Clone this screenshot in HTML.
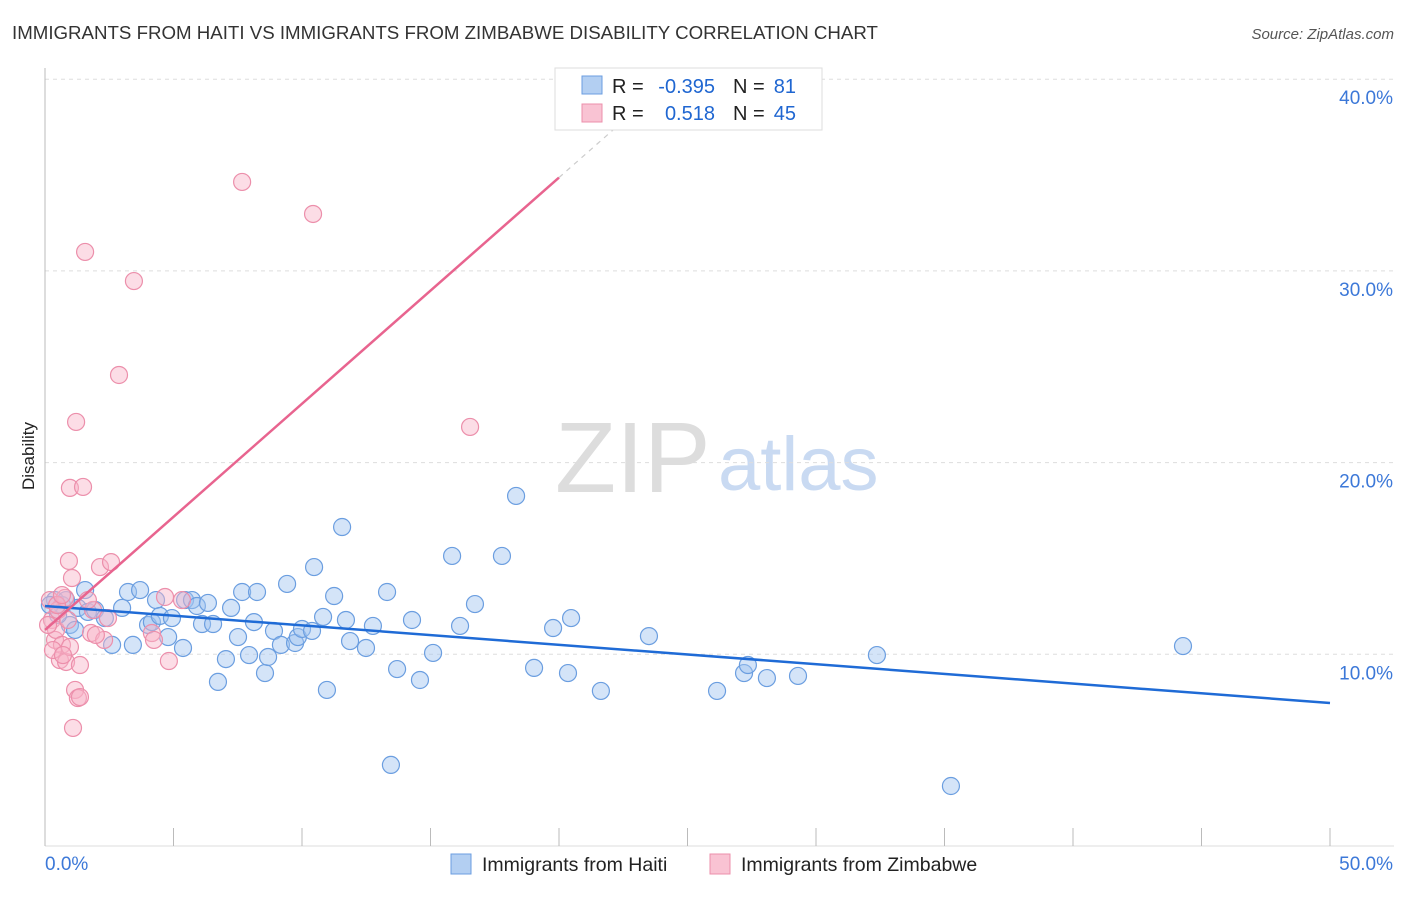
<!DOCTYPE html>
<html><head><meta charset="utf-8"><style>
body{margin:0;background:#fff;font-family:"Liberation Sans",sans-serif;}
svg text{font-family:"Liberation Sans",sans-serif;}
</style></head><body>
<svg id="chart" width="1406" height="892" xmlns="http://www.w3.org/2000/svg">
<text x="12" y="39" font-size="18.7" fill="#333">IMMIGRANTS FROM HAITI VS IMMIGRANTS FROM ZIMBABWE DISABILITY CORRELATION CHART</text>
<text x="1394" y="39" font-size="15" fill="#555" font-style="italic" text-anchor="end">Source: ZipAtlas.com</text>
<text transform="translate(34,456) rotate(-90)" font-size="17" fill="#222" text-anchor="middle">Disability</text>
<g>
<text x="555" y="492" font-size="100" fill="#ddd" font-family="Liberation Serif">ZIP</text>
<text x="718" y="490" font-size="76" fill="#c9daf2">atlas</text>
</g>
<g id="grid"></g>
<g id="axes"></g>
<g id="pts"></g>
<g id="lines"></g>
<g>
<rect x="555" y="68" width="267" height="62" fill="#fff" stroke="#ddd"/>
<rect x="582" y="76" width="20" height="18" fill="#b3cff2" stroke="#6b9ee0"/>
<rect x="582" y="104" width="20" height="18" fill="#f9c3d3" stroke="#ec8fab"/>
<text x="612" y="93" font-size="20" fill="#222">R =</text>
<text x="715" y="93" font-size="20" fill="#1f66d1" text-anchor="end">-0.395</text>
<text x="733" y="93" font-size="20" fill="#222">N =</text>
<text x="796" y="93" font-size="20" fill="#1f66d1" text-anchor="end">81</text>
<text x="612" y="120" font-size="20" fill="#222">R =</text>
<text x="715" y="120" font-size="20" fill="#1f66d1" text-anchor="end">0.518</text>
<text x="733" y="120" font-size="20" fill="#222">N =</text>
<text x="796" y="120" font-size="20" fill="#1f66d1" text-anchor="end">45</text>
</g>
<g>
<rect x="451" y="854" width="20" height="20" fill="#b3cff2" stroke="#6b9ee0"/>
<text x="482" y="871" font-size="19.5" fill="#222">Immigrants from Haiti</text>
<rect x="710" y="854" width="20" height="20" fill="#f9c3d3" stroke="#ec8fab"/>
<text x="741" y="871" font-size="19.5" fill="#222">Immigrants from Zimbabwe</text>
</g>
</svg>
<script>
const yTicks=[10,20,30,40];
const xTickLabels=["0.0%","50.0%"];
const haitiX=[0.39,0.66,0.97,1.28,1.56,1.67,1.95,2.33,2.61,3.00,3.23,3.42,3.70,4.01,4.16,4.32,4.47,4.79,4.94,5.37,5.45,5.72,5.91,6.11,6.34,6.54,6.73,7.04,7.24,7.51,7.67,7.94,8.13,8.25,8.56,8.68,8.91,9.18,9.42,9.73,9.84,10.00,10.39,10.47,10.82,10.97,11.25,11.56,11.71,11.87,12.49,12.76,13.31,13.46,13.70,14.28,14.59,15.10,15.84,16.15,16.73,17.78,18.33,19.03,19.77,20.35,20.47,21.63,23.50,26.15,27.20,27.35,28.09,29.30,32.37,35.25,44.28,0.19,0.51,0.82,1.17];
const haitiY=[12.83,12.57,11.53,12.42,13.35,12.21,12.31,11.89,10.49,12.42,13.25,10.49,13.35,11.53,11.68,12.83,12.00,10.90,11.89,10.33,12.83,12.83,12.52,11.58,12.68,11.58,8.56,9.75,12.42,10.90,13.25,9.96,11.68,13.25,9.02,9.86,11.22,10.49,13.67,10.59,10.90,11.32,11.22,14.55,11.95,8.14,13.04,16.64,11.79,10.69,10.33,11.48,13.25,4.23,9.23,11.79,8.66,10.07,15.13,11.48,12.62,15.13,18.26,9.29,11.37,9.02,11.89,8.09,10.95,8.09,9.02,9.44,8.76,8.87,9.96,3.13,10.43,12.57,12.05,12.83,11.27];
const zimX=[0.19,0.27,0.39,0.43,0.51,0.58,0.66,0.78,0.82,0.89,0.93,0.97,1.05,1.17,1.28,1.36,1.09,1.36,0.97,1.48,1.21,1.56,1.79,1.87,2.14,2.30,2.45,2.57,2.88,3.46,4.16,4.24,4.67,4.82,5.33,7.67,10.43,16.54,0.12,0.31,0.47,0.70,1.98,0.66,1.67];
const zimY=[12.83,11.79,10.75,11.27,12.31,9.70,10.49,12.94,9.60,11.79,14.87,10.38,13.98,8.14,7.72,7.77,6.16,9.44,18.68,18.73,22.12,30.99,11.11,12.31,14.55,10.75,11.89,14.81,24.57,29.47,11.11,10.75,12.99,9.65,12.83,34.64,32.97,21.86,11.53,10.22,12.57,9.96,11.01,13.09,12.83];
const haitiTrend=[12.52,7.46];
const zimTrend=[11.27,1.18];
const NS="http://www.w3.org/2000/svg";
const X0=45,X1=1330,Y0=846,YS=19.17;
const sx=v=>X0+(v/50)*(X1-X0);
const sy=v=>Y0-v*YS;
function mk(tag,attrs,parent){const e=document.createElementNS(NS,tag);for(const k in attrs)e.setAttribute(k,attrs[k]);document.getElementById(parent).appendChild(e);return e;}
yTicks.forEach(t=>{
  const l=mk('line',{x1:X0,x2:1394,y1:sy(t),y2:sy(t),stroke:'#ddd','stroke-dasharray':'4,4'},'grid');
  
  
  const tx=mk('text',{x:1393,y:sy(t)+25,'font-size':19,fill:'#3c78d8','text-anchor':'end'},'grid');
  tx.textContent=t.toFixed(1)+'%';
  
  
});
const ax=mk('line',{x1:X0,x2:X0,y1:68,y2:Y0,stroke:'#bbb'},'axes');


const bx=mk('line',{x1:X0,x2:1394,y1:Y0,y2:Y0,stroke:'#ddd'},'axes');


for(let i=0;i<=10;i++){
  const t=mk('line',{x1:sx(i*5),x2:sx(i*5),y1:828,y2:Y0,stroke:'#bbb'},'axes');
  
  
}
xTickLabels.forEach((s,i)=>{
  const t=mk('text',{x:i?1393:45,y:870,'font-size':19,fill:'#3c78d8','text-anchor':i?'end':'start'},'axes');
  t.textContent=s;
  
  
});
haitiX.forEach((x,i)=>{
  const c=mk('circle',{cx:sx(x),cy:sy(haitiY[i]),r:8.5,fill:'rgba(160,195,240,0.45)',stroke:'#6b9ee0','stroke-width':1.2},'pts');
  
  
});
zimX.forEach((x,i)=>{
  const c=mk('circle',{cx:sx(x),cy:sy(zimY[i]),r:8.5,fill:'rgba(248,180,200,0.45)',stroke:'#ec8fab','stroke-width':1.2},'pts');
  
  
});
const hl=mk('line',{x1:sx(0),y1:sy(haitiTrend[0]),x2:sx(50),y2:sy(haitiTrend[1]),stroke:'#1f6bd6','stroke-width':2.5},'lines');


const zx=20;
const zl=mk('line',{x1:sx(0),y1:sy(zimTrend[0]),x2:sx(zx),y2:sy(zimTrend[0]+zimTrend[1]*zx),stroke:'#e8648f','stroke-width':2.5},'lines');


const zd=mk('line',{x1:sx(zx),y1:sy(zimTrend[0]+zimTrend[1]*zx),x2:sx(22.4),y2:sy(zimTrend[0]+zimTrend[1]*22.4),stroke:'#ccc',"stroke-width":1.2,'stroke-dasharray':'5,5'},'lines');


</script>
</body></html>
